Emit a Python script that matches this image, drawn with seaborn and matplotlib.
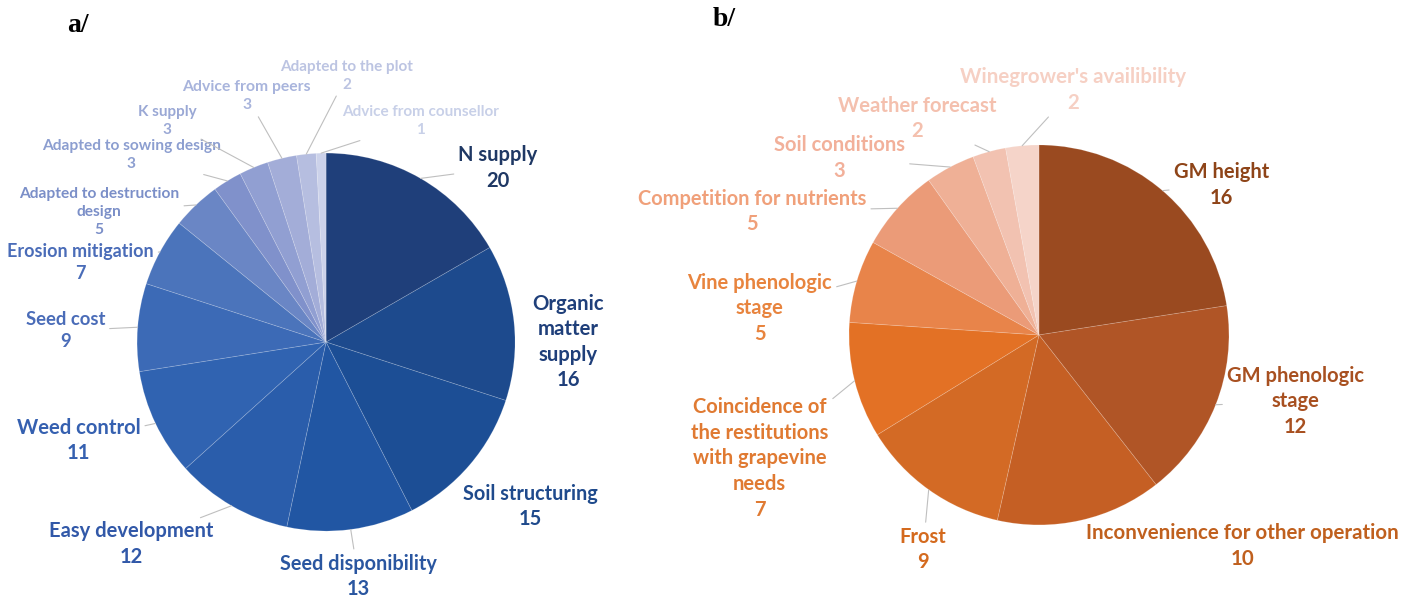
"""
Two pie charts of the criteria cited by winegrowers (a: choice of green manure, b: destruction date)
"""
import numpy as np
import matplotlib
matplotlib.use('Agg')
import matplotlib.pyplot as plt
import seaborn as sns

# a/ : reasons for choosing the green manure
a_labels = ['N supply', 'Organic\nmatter\nsupply', 'Soil structuring', 'Seed disponibility',
            'Easy development', 'Weed control', 'Seed cost', 'Erosion mitigation',
            'Adapted to destruction\ndesign', 'Adapted to sowing design', 'K supply',
            'Advice from peers', 'Adapted to the plot', 'Advice from counsellor']
a_values = [20, 16, 15, 13, 12, 11, 9, 7, 5, 3, 3, 3, 2, 1]

# b/ : criteria for the destruction date
b_labels = ['GM height', 'GM phenologic\nstage', 'Inconvenience for other operation', 'Frost',
            'Coincidence of\nthe restitutions\nwith grapevine\nneeds', 'Vine phenologic\nstage',
            'Competition for nutrients', 'Soil conditions', 'Weather forecast',
            "Winegrower's availibility"]
b_values = [16, 12, 10, 9, 7, 5, 5, 3, 2, 2]

# styling
a_colors = ['#1f3f7a', '#1d4a8d', '#1c4e95', '#2156a3', '#2a5dab', '#3063b1', '#3c6ab6',
            '#4b74bb', '#6a86c5', '#8091cb', '#919fd2', '#a3add8', '#b6bee0', '#ccd2ea']
a_text_colors = ['#1f3864', '#1f3f7a', '#1f4a8c', '#2a56a0', '#3158a8', '#3560b0', '#4a6cb8',
                 '#4a6cb8', '#7b8fc8', '#8c9ed0', '#9aa8d5', '#a8b4dc', '#bcc4e2', '#c8d0e8']
a_sizes = [14.5, 14.6, 14.3, 14.3, 14.5, 14.6, 13.3, 13, 11.2, 11.2, 11, 11.3, 11, 11]
a_pos = [(0.91, 0.92), (1.28, 0.0), (1.08, -0.87), (0.17, -1.24), (-1.03, -1.07),
         (-1.31, -0.52), (-1.38, 0.06), (-1.30, 0.42), (-1.20, 0.69), (-1.03, 0.99),
         (-0.84, 1.17), (-0.42, 1.30), (0.11, 1.41), (0.50, 1.17)]
a_leader = [True, False, False, True, True, True, True, True, True, True, True, True, True, True]

b_colors = ['#9a4a20', '#b05526', '#c55f24', '#d36a25', '#e37125', '#e8844a', '#eb9b78',
            '#efb096', '#f2c2b1', '#f5d4c9']
b_text_colors = ['#8e4418', '#a85020', '#c0601e', '#d46a1e', '#e07a32', '#e8843e', '#f0a07a',
                 '#f2b09a', '#f4c0ae', '#f6d0c4']
b_sizes = [14.5, 14.5, 14.8, 14.5, 14.5, 14.5, 14.4, 14.5, 14.6, 14.8]
b_pos = [(0.96, 0.79), (1.35, -0.35), (1.07, -1.11), (-0.61, -1.13), (-1.47, -0.65),
         (-1.47, 0.14), (-1.51, 0.65), (-1.05, 0.93), (-0.64, 1.14), (0.18, 1.29)]
b_leader = [True, True, False, True, True, True, True, True, True, True]

sns.set_theme(style='white')
plt.rcParams['font.family'] = ['Lato', 'DejaVu Sans']


def draw_pie(ax, labels, values, colors, text_colors, sizes, positions, leaders, xlim, ylim):
    wedges, _ = ax.pie(values, colors=colors, startangle=90, counterclock=False,
                       wedgeprops=dict(edgecolor=(1, 1, 1, 0.18), linewidth=0.6))
    for w, lab, val, tc, fs, pos, lead in zip(wedges, labels, values, text_colors,
                                             sizes, positions, leaders):
        mid = np.deg2rad((w.theta1 + w.theta2) / 2)
        edge = (np.cos(mid), np.sin(mid))
        arrow = dict(arrowstyle='-', color='#bfbfbf', lw=0.8, shrinkA=1, shrinkB=0) if lead else None
        ax.annotate(f'{lab}\n{val}', xy=edge, xytext=pos, ha='center', va='center',
                    fontsize=fs, fontweight='bold', color=tc, linespacing=1.35,
                    arrowprops=arrow, annotation_clip=False)
    ax.set_xlim(*xlim)
    ax.set_ylim(*ylim)
    ax.axis('off')


fig = plt.figure(figsize=(14.18, 6.04), dpi=100)
ax_a = fig.add_axes([0, 0, 0.5, 1])
ax_b = fig.add_axes([0.5, 0, 0.5, 1])

draw_pie(ax_a, a_labels, a_values, a_colors, a_text_colors, a_sizes, a_pos, a_leader,
         (-1.725, 2.026), (-1.386, 1.810))
draw_pie(ax_b, b_labels, b_values, b_colors, b_text_colors, b_sizes, b_pos, b_leader,
         (-1.737, 1.995), (-1.416, 1.763))

fig.text(78 / 1418, 1 - 26 / 604, 'a/', fontsize=20, fontweight='bold',
         family='Liberation Serif', ha='center', va='center', color='black')
fig.text(724 / 1418, 1 - 20 / 604, 'b/', fontsize=20, fontweight='bold',
         family='Liberation Serif', ha='center', va='center', color='black')

fig.savefig('out.png', dpi=100)
